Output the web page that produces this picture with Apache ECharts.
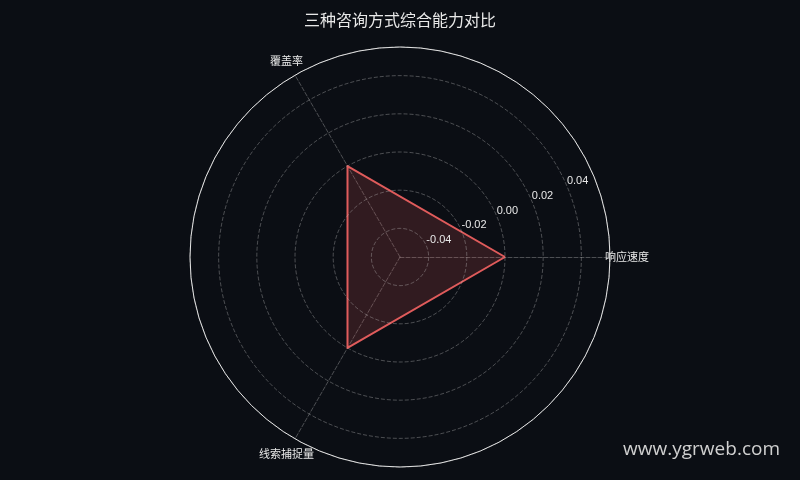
<!DOCTYPE html>
<html>
<head>
<meta charset="utf-8">
<script src="https://cdn.jsdelivr.net/npm/echarts@6/dist/echarts.min.js"></script>
<style>html,body{margin:0;padding:0;background:#0b0e14;}#main{width:800px;height:480px;}</style>
</head>
<body>
<div id="main"></div>
<script>
var titleText = '三种咨询方式综合能力对比';
var indicatorNames = ['响应速度', '覆盖率', '线索捕捉量'];
var seriesName = '综合能力';
var seriesValues = [0, 0, 0];
var axisMin = -0.055;
var axisMax = 0.055;

var chart = echarts.init(document.getElementById('main'));
var gridLine = 'rgba(200,200,200,0.35)';
var option = {
  backgroundColor: '#0b0e14',
  title: {
    text: titleText,
    left: 'center',
    top: 7,
    textStyle: { color: '#e8e8e8', fontSize: 16, fontWeight: 'normal', fontFamily: 'Noto Sans CJK SC' }
  },
  graphic: [{
    type: 'text',
    right: 20,
    bottom: 21,
    style: { text: 'www.ygrweb.com', fill: '#d0d0d0', font: '19px "Open Sans"' }
  }],
  polar: { center: ['50%', 257], radius: 210 },
  angleAxis: {
    type: 'value',
    min: 0,
    max: 360,
    startAngle: 23,
    axisLine: { lineStyle: { color: '#e8e8e8', width: 1 } },
    axisTick: { show: false },
    splitLine: { show: false },
    axisLabel: { show: false }
  },
  radiusAxis: {
    type: 'value',
    min: axisMin,
    max: axisMax,
    axisLine: { show: false },
    axisTick: { show: false },
    axisLabel: {
      color: '#e8e8e8', fontSize: 11, showMinLabel: false, showMaxLabel: false,
      margin: 0, align: 'left', verticalAlign: 'bottom',
      formatter: function (v) { return v.toFixed(2); }
    },
    splitLine: { lineStyle: { color: gridLine, type: 'dashed' } },
    z: 5
  },
  radar: [{
    center: ['50%', 257],
    radius: 210,
    shape: 'circle',
    startAngle: 0,
    indicator: indicatorNames.map(function (n) { return { name: n, min: axisMin, max: axisMax }; }),
    nameGap: 17,
    axisName: { color: '#e8e8e8', fontSize: 11, fontFamily: 'Noto Sans CJK SC', align: 'center', verticalAlign: 'middle' },
    axisLine: { lineStyle: { color: gridLine, type: 'dashed' } },
    splitLine: { show: false },
    splitArea: { show: false },
    axisLabel: { show: false }
  }],
  series: [{
    type: 'radar',
    name: seriesName,
    symbol: 'none',
    lineStyle: { color: '#e05c5c', width: 2 },
    areaStyle: { color: 'rgba(224,92,92,0.25)' },
    data: [{ value: seriesValues, name: seriesName }]
  }]
};
chart.setOption(option);
</script>
</body>
</html>
